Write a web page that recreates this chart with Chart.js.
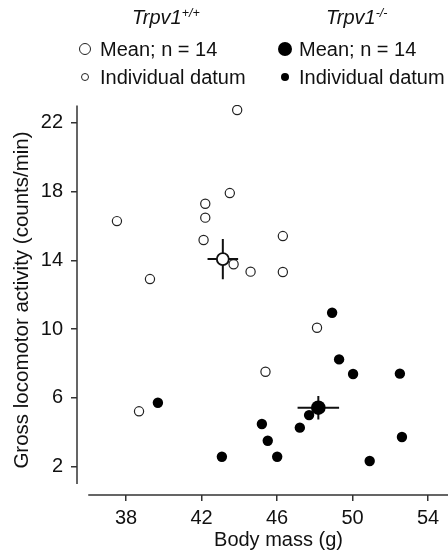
<!DOCTYPE html>
<html>
<head>
<meta charset="utf-8">
<script src="https://cdn.jsdelivr.net/npm/chart.js@4.4.1/dist/chart.umd.min.js"></script>
<style>
  html, body { margin: 0; padding: 0; background: #fff; }
  #wrap { position: relative; width: 448px; height: 554px; overflow: hidden; font-family: "Liberation Sans", Arial, sans-serif; color: #111; }
  #wrap canvas { position: absolute; left: 0; top: 0; }
  .lg { position: absolute; font-size: 20px; line-height: 20px; white-space: nowrap; }
  .hd { position: absolute; font-style: italic; font-size: 20px; line-height: 20px; white-space: nowrap; }
  .hd sup { font-size: 12.5px; line-height: 0; position: relative; top: -7px; vertical-align: baseline; }
  .sym { position: absolute; border-radius: 50%; box-sizing: border-box; transform: translate(-50%, -50%); }
</style>
</head>
<body>
<div id="wrap">
  <!-- the original figure is cropped on the right, so the canvas runs past the frame -->
  <canvas id="myChart" width="480" height="554"></canvas>
  <div class="hd" style="left:132px; top:7px;">Trpv1<sup>+/+</sup></div>
  <div class="hd" style="left:326px; top:7px;">Trpv1<sup>-/-</sup></div>
  <div class="sym" style="left:85px; top:49px; width:12px; height:12px; border:1.6px solid #222;"></div>
  <div class="sym" style="left:85px; top:77px; width:8px; height:8px; border:1.2px solid #222;"></div>
  <div class="sym" style="left:285px; top:49px; width:14px; height:14px; background:#000;"></div>
  <div class="sym" style="left:285px; top:77px; width:8px; height:8px; background:#000;"></div>
  <div class="lg" style="left:100px; top:39px;">Mean; n = 14</div>
  <div class="lg" style="left:100px; top:67px;">Individual datum</div>
  <div class="lg" style="left:299px; top:39px;">Mean; n = 14</div>
  <div class="lg" style="left:299px; top:67px;">Individual datum</div>
</div>
<script>
// body mass (g) and activity (counts/min)
const wtMass = [37.52, 39.27, 38.69, 43.89, 43.50, 42.20, 42.20, 42.11, 43.70, 44.60, 46.31, 46.31, 48.12, 45.39];
const wtActivity = [16.28, 12.91, 5.22, 22.74, 17.91, 17.29, 16.48, 15.18, 13.77, 13.34, 15.41, 13.32, 10.08, 7.52];
const koMass = [39.69, 45.20, 45.51, 43.08, 46.01, 48.92, 49.29, 50.03, 52.51, 47.70, 47.21, 52.62, 50.91];
const koActivity = [5.72, 4.48, 3.51, 2.58, 2.58, 10.95, 8.24, 7.39, 7.41, 5.00, 4.27, 3.73, 2.33];

// [mass, activity]
const wtMean = [43.13, 14.07];
const wtSem = [0.81, 1.17];
const koMean = [48.19, 5.43];
const koSem = [1.10, 0.68];

const xTicks = [38, 42, 46, 50, 54];
const yTicks = [2, 6, 10, 14, 18, 22];

const family = '"Liberation Sans", Arial, sans-serif';
const toPoints = (xs, ys) => xs.map((v, i) => ({ x: v, y: ys[i] }));

const axesAndBars = {
  id: 'axesAndBars',
  beforeDatasetsDraw(chart) {
    const { ctx, chartArea, scales: { x, y } } = chart;
    ctx.save();
    ctx.strokeStyle = '#333';
    ctx.lineWidth = 1.5;
    ctx.beginPath();
    ctx.moveTo(chartArea.left, y.getPixelForValue(1));
    ctx.lineTo(chartArea.left, y.getPixelForValue(23));
    ctx.moveTo(x.getPixelForValue(36), chartArea.bottom);
    ctx.lineTo(chartArea.right, chartArea.bottom);
    ctx.stroke();
    ctx.restore();
  },
  beforeDatasetDraw(chart, args) {
    // error bars go under the mean markers
    if (args.index !== 1) return;
    const { ctx, scales: { x, y } } = chart;
    ctx.save();
    ctx.strokeStyle = '#111';
    ctx.lineWidth = 2;
    [[wtMean, wtSem], [koMean, koSem]].forEach(([m, s]) => {
      ctx.beginPath();
      ctx.moveTo(x.getPixelForValue(m[0] - s[0]), y.getPixelForValue(m[1]));
      ctx.lineTo(x.getPixelForValue(m[0] + s[0]), y.getPixelForValue(m[1]));
      ctx.moveTo(x.getPixelForValue(m[0]), y.getPixelForValue(m[1] - s[1]));
      ctx.lineTo(x.getPixelForValue(m[0]), y.getPixelForValue(m[1] + s[1]));
      ctx.stroke();
    });
    ctx.restore();
  },
};

new Chart(document.getElementById('myChart'), {
  type: 'scatter',
  data: {
    datasets: [
      {
        label: 'Trpv1+/+ mean',
        data: [{ x: wtMean[0], y: wtMean[1] }],
        pointRadius: 6,
        pointBorderWidth: 1.9,
        pointBackgroundColor: '#fff',
        pointBorderColor: '#111',
      },
      {
        label: 'Trpv1-/- mean',
        data: [{ x: koMean[0], y: koMean[1] }],
        pointRadius: 7.3,
        pointBorderWidth: 0,
        pointBackgroundColor: '#000',
        pointBorderColor: '#000',
      },
      {
        label: 'Trpv1+/+',
        data: toPoints(wtMass, wtActivity),
        pointRadius: 4.6,
        pointBorderWidth: 1.2,
        pointBackgroundColor: '#fff',
        pointBorderColor: '#222',
      },
      {
        label: 'Trpv1-/-',
        data: toPoints(koMass, koActivity),
        pointRadius: 5.2,
        pointBorderWidth: 0,
        pointBackgroundColor: '#000',
        pointBorderColor: '#000',
      },
    ],
  },
  options: {
    responsive: false,
    animation: false,
    layout: { autoPadding: false, padding: { top: 105, right: 0, bottom: 0, left: 0 } },
    plugins: { legend: { display: false }, tooltip: { enabled: false } },
    scales: {
      x: {
        type: 'linear',
        min: 35.404,
        max: 56.755,
        afterBuildTicks: (scale) => { scale.ticks = xTicks.map((v) => ({ value: v })); },
        afterFit: (scale) => { scale.height = 59; },
        border: { display: false },
        grid: { drawOnChartArea: false, drawTicks: true, tickLength: 6, color: '#333', lineWidth: 1.5 },
        ticks: { color: '#111', font: { size: 20, family }, padding: 5, maxRotation: 0 },
        title: { display: true, text: 'Body mass (g)', color: '#111', font: { size: 20, family }, padding: { top: 0, bottom: 2 } },
      },
      y: {
        type: 'linear',
        min: 0.355,
        max: 23.03,
        afterBuildTicks: (scale) => { scale.ticks = yTicks.map((v) => ({ value: v })); },
        afterFit: (scale) => { scale.width = 77; },
        border: { display: false },
        grid: { drawOnChartArea: false, drawTicks: true, tickLength: 6, color: '#333', lineWidth: 1.5 },
        ticks: { color: '#111', font: { size: 20, family }, padding: 8 },
        title: { display: true, text: 'Gross locomotor activity (counts/min)', color: '#111', font: { size: 20.5, family }, padding: { top: 10, bottom: 0 } },
      },
    },
  },
  plugins: [axesAndBars],
});
</script>
</body>
</html>
